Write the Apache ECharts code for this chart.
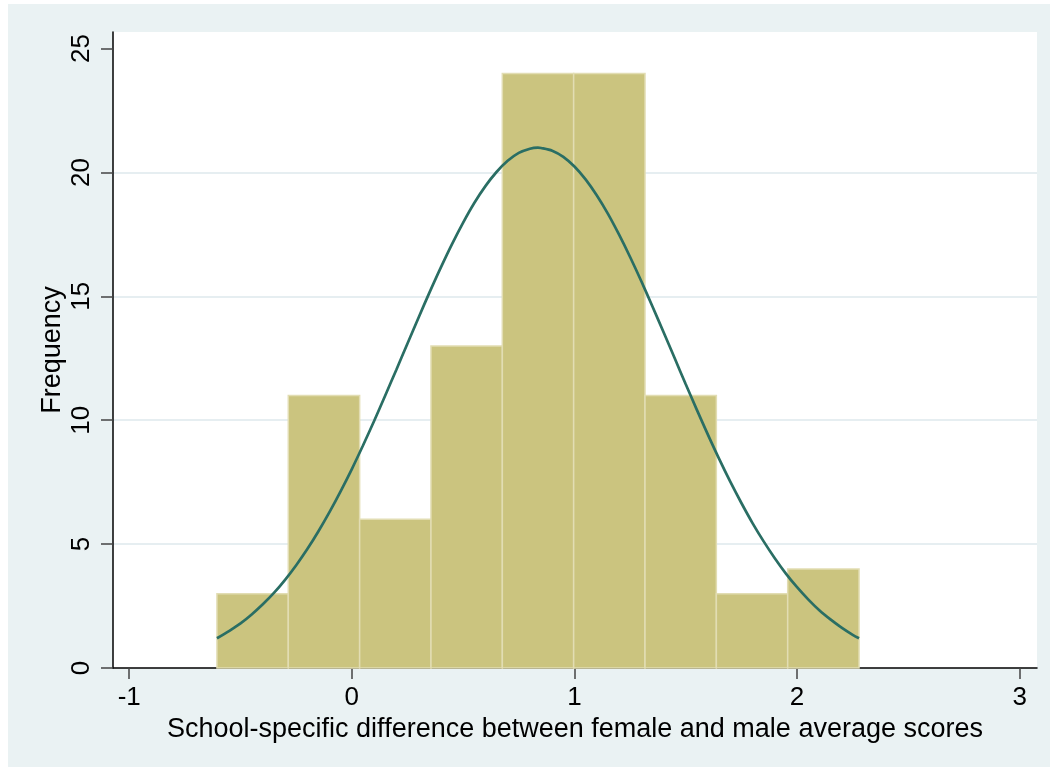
<!DOCTYPE html>
<html>
<head>
<meta charset="utf-8">
<title>Histogram of school-specific score differences</title>
<script src="https://cdn.jsdelivr.net/npm/echarts@6/dist/echarts.min.js"></script>
<style>
  html, body { margin: 0; padding: 0; background: #ffffff; }
  #frame { position: absolute; left: 8px; top: 4px; width: 1042px; height: 763px; background: #eaf2f3; }
  #chart { position: absolute; left: 0; top: 0; width: 1050px; height: 767px; }
</style>
</head>
<body>
<div id="frame"></div>
<div id="chart"></div>
<script>
// Histogram bin edges (difference in average scores) and counts per bin
const binEdges = [-0.606, -0.2855, 0.035, 0.3555, 0.676, 0.9965, 1.317, 1.6375, 1.958, 2.2785];
const binCounts = [3, 11, 6, 13, 24, 24, 11, 3, 4];

// Fitted normal density, scaled to frequency
const curveX = [-0.606, -0.55, -0.5, -0.45, -0.4, -0.35, -0.3, -0.25, -0.2, -0.15, -0.1, -0.05,
                0.0, 0.05, 0.1, 0.15, 0.2, 0.25, 0.3, 0.35, 0.4, 0.45, 0.5, 0.55, 0.6, 0.65,
                0.7, 0.75, 0.8, 0.836, 0.85, 0.9, 0.95, 1.0, 1.05, 1.1, 1.15, 1.2, 1.25, 1.3,
                1.35, 1.4, 1.45, 1.5, 1.55, 1.6, 1.65, 1.7, 1.75, 1.8, 1.85, 1.9, 1.95, 2.0,
                2.05, 2.1, 2.15, 2.2, 2.25, 2.2785];
const curveY = [1.20, 1.50, 1.80, 2.16, 2.57, 3.03, 3.56, 4.15, 4.80, 5.52, 6.30, 7.14,
                8.03, 8.98, 9.97, 11.00, 12.04, 13.10, 14.15, 15.18, 16.17, 17.11, 17.98, 18.77, 19.45, 20.02,
                20.47, 20.79, 20.96, 21.00, 20.99, 20.88, 20.63, 20.24, 19.72, 19.08, 18.34, 17.50, 16.59, 15.62,
                14.60, 13.56, 12.51, 11.45, 10.42, 9.41, 8.44, 7.52, 6.66, 5.85, 5.11, 4.43, 3.81, 3.26,
                2.77, 2.33, 1.96, 1.63, 1.34, 1.20];

// Axis ticks
const xTicks = [-1, 0, 1, 2, 3];
const yTicks = [0, 5, 10, 15, 20, 25];

const bins = binCounts.map((c, i) => [binEdges[i], binEdges[i + 1], c]);
const curve = curveX.map((x, i) => [x, curveY[i]]);

const FONT = '"Liberation Sans", Arial, Helvetica, sans-serif';

const chart = echarts.init(document.getElementById('chart'), null, { renderer: 'canvas' });
chart.setOption({
  animation: false,
  backgroundColor: 'transparent',
  grid: {
    left: 113, right: 13, top: 32, bottom: 99,
    show: true, backgroundColor: '#ffffff', borderWidth: 0
  },
  xAxis: {
    type: 'value',
    min: -1.073, max: 3.078,
    name: 'School-specific difference between female and male average scores',
    nameLocation: 'middle',
    nameGap: 48,
    nameMoveOverlap: false,
    nameTextStyle: { fontFamily: FONT, fontSize: 27, color: '#000' },
    axisLine: { show: true, onZero: false, lineStyle: { color: '#000', width: 1.5 } },
    axisTick: { show: true, length: 11, customValues: xTicks, lineStyle: { color: '#444', width: 1.5 } },
    axisLabel: { customValues: xTicks, margin: 17, fontFamily: FONT, fontSize: 26, color: '#000' },
    splitLine: { show: false }
  },
  yAxis: {
    type: 'value',
    min: 0, max: 25.67,
    name: 'Frequency',
    nameLocation: 'middle',
    nameRotate: 90,
    nameGap: 47,
    nameMoveOverlap: false,
    nameTextStyle: { fontFamily: FONT, fontSize: 27, color: '#000' },
    axisLine: { show: true, onZero: false, lineStyle: { color: '#000', width: 1.5 } },
    axisTick: { show: true, length: 12, customValues: yTicks, lineStyle: { color: '#444', width: 1.5 } },
    axisLabel: { customValues: yTicks, rotate: 90, margin: 18, fontFamily: FONT, fontSize: 26, color: '#000' },
    splitLine: {
      show: true, showMinLine: false, showMaxLine: false,
      customValues: yTicks,
      lineStyle: { color: '#e6eef1', width: 2 }
    }
  },
  series: [
    {
      type: 'custom',
      data: bins,
      encode: { x: [0, 1], y: 2 },
      renderItem: function (params, api) {
        const p0 = api.coord([api.value(0), 0]);
        const p1 = api.coord([api.value(1), api.value(2)]);
        return {
          type: 'rect',
          shape: { x: p0[0], y: p1[1], width: p1[0] - p0[0], height: p0[1] - p1[1] },
          style: { fill: '#cbc47f', stroke: '#e2ddb3', lineWidth: 1.5 }
        };
      },
      z: 2
    },
    {
      type: 'line',
      data: curve,
      smooth: 0.3,
      showSymbol: false,
      lineStyle: { color: '#2a6e64', width: 2.7 },
      z: 3
    }
  ]
});
</script>
</body>
</html>
